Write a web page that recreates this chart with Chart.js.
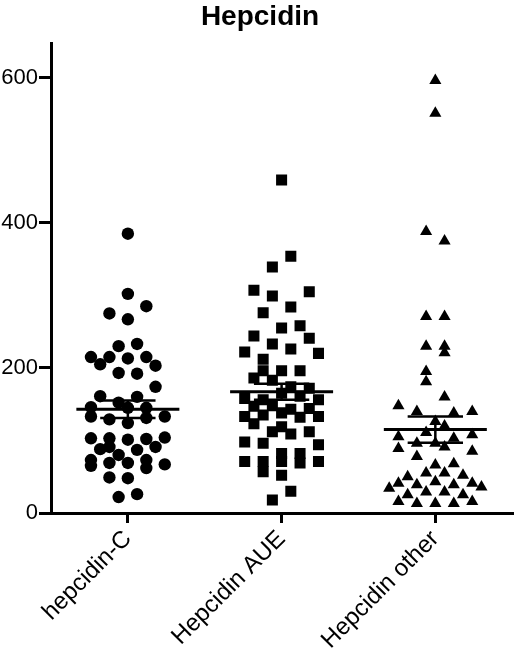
<!DOCTYPE html>
<html>
<head>
<meta charset="utf-8">
<title>Hepcidin</title>
<script src="https://cdn.jsdelivr.net/npm/chart.js@4.4.1/dist/chart.umd.min.js"></script>
<style>
    html, body { margin: 0; padding: 0; background: #fff; }
    #wrap { width: 520px; height: 660px; }
</style>
</head>
<body>
<div id="wrap"><canvas id="grafica" width="520" height="660"></canvas></div>
<script>
'use strict';

// ── Datos ──────────────────────────────────────────────────
const categorias = ['hepcidin-C', 'Hepcidin AUE', 'Hepcidin other'];
const ticksY = [0, 200, 400, 600];

const valoresC = [385, 302, 285, 275, 267, 230, 233, 215, 215, 213, 215, 205, 203, 193, 192, 174,
    161, 160, 152, 146, 145, 145, 133, 129, 124, 131, 133, 103, 103, 101, 102, 104, 88, 87, 91,
    80, 73, 65, 69, 69, 73, 62, 67, 49, 48, 26, 22, 91];
const desplC = [0, 0, 0.12, -0.12, 0, -0.06, 0.06, -0.24, -0.12, 0, 0.12, -0.18, 0.18, -0.06, 0.06, 0.18,
    -0.18, 0.06, -0.06, -0.24, 0, 0.12, -0.24, -0.12, 0, 0.12, 0.24, -0.24, -0.12, 0, 0.12, 0.24, -0.18, 0.06, 0.18,
    -0.06, -0.24, -0.24, -0.12, 0, 0.12, 0.12, 0.24, -0.12, 0, 0.06, -0.06, -0.12];

const valoresAUE = [459, 354, 339, 307, 305, 299, 284, 276, 255, 258, 244, 241, 233, 226, 222, 220,
    212, 196, 196, 196, 186, 183, 174, 172, 158, 156, 165, 161, 156, 147, 148, 143, 144, 133, 135,
    138, 132, 133, 123, 112, 109, 112, 119, 98, 96, 94, 82, 82, 71, 71, 71, 69, 71, 57, 52, 30, 18];
const desplAUE = [0, 0.06, -0.06, -0.18, 0.18, -0.06, 0.06, -0.12, 0, 0.12, -0.18, 0.18, -0.06, 0.06, -0.24, 0.24,
    -0.12, 0, 0.12, -0.12, -0.18, -0.06, 0.06, 0.18, -0.24, -0.12, 0, 0.12, 0.24, -0.18, -0.06, 0.06, 0.18, -0.24, -0.12,
    0, 0.12, 0.24, -0.18, -0.06, 0.06, 0.18, 0, -0.24, -0.12, 0.24, 0, 0.12, -0.24, -0.12, 0, 0.12, 0.24, -0.12, 0, 0.06, -0.06];

const valoresOther = [596, 551, 388, 375, 271, 271, 230, 230, 221, 195, 181, 160, 148, 140, 138, 140,
    126, 120, 111, 105, 108, 96, 96, 103, 91, 89, 85, 78, 66, 68, 55, 55, 50, 52, 43, 41, 39, 39, 41,
    36, 34, 29, 29, 25, 25, 16, 13, 13, 13, 16];
const desplOther = [0, 0, -0.06, 0.06, -0.06, 0.06, -0.06, 0.06, 0.06, -0.06, -0.06, 0.06, -0.24, -0.12, 0.12, 0.24,
    0, 0.06, -0.06, -0.24, 0.24, -0.12, 0, 0.12, 0.06, -0.24, 0.24, -0.12, 0, 0.12, -0.06, 0.06, -0.18, 0.18, 0, -0.24,
    -0.12, 0.12, 0.24, 0.3, -0.3, -0.06, 0.06, -0.18, 0.18, -0.24, -0.12, 0, 0.12, 0.24];

// media y error estándar de cada grupo
const medias = [143, 167, 115];
const errores = [12, 11, 18];

// ── Construcción de los datasets ───────────────────────────
const NEGRO = '#000000';
const grupos = [
    { valores: valoresC, despl: desplC, forma: 'circle', radio: 6.2 },
    { valores: valoresAUE, despl: desplAUE, forma: 'rect', radio: 7.8 },
    { valores: valoresOther, despl: desplOther, forma: 'triangle', radio: 7 }
];

const datasets = [];

grupos.forEach((g, i) => {
    datasets.push({
        type: 'scatter',
        label: categorias[i],
        data: g.valores.map((v, k) => ({ x: i + g.despl[k], y: v })),
        pointStyle: g.forma,
        pointRadius: g.radio,
        backgroundColor: NEGRO,
        borderColor: NEGRO,
        borderWidth: 0
    });
});

function segmento(puntos, grosor) {
    return {
        type: 'line',
        data: puntos,
        borderColor: NEGRO,
        borderWidth: grosor,
        pointRadius: 0,
        fill: false,
        tension: 0
    };
}

medias.forEach((m, i) => {
    const s = errores[i];
    datasets.push(segmento([{ x: i - 0.335, y: m }, { x: i + 0.335, y: m }], 3));   // media
    datasets.push(segmento([{ x: i, y: m - s }, { x: i, y: m + s }], 2.5));          // barra
    datasets.push(segmento([{ x: i - 0.18, y: m + s }, { x: i + 0.18, y: m + s }], 2.5));
    datasets.push(segmento([{ x: i - 0.18, y: m - s }, { x: i + 0.18, y: m - s }], 2.5));
});

const fuente = "'Liberation Sans', Arial, Helvetica, sans-serif";

new Chart(document.getElementById('grafica').getContext('2d'), {
    data: { datasets: datasets },
    options: {
        responsive: false,
        animation: false,
        layout: { padding: { top: 0, right: 0, bottom: 0, left: 0 } },
        plugins: {
            legend: { display: false },
            tooltip: { enabled: false },
            title: {
                display: true,
                text: 'Hepcidin',
                color: NEGRO,
                font: { family: fuente, size: 28, weight: 'bold' },
                padding: { top: 0, bottom: 10 }
            }
        },
        scales: {
            x: {
                type: 'linear',
                min: -0.5,
                max: 2.5,
                afterBuildTicks: axis => { axis.ticks = categorias.map((c, i) => ({ value: i })); },
                afterFit: axis => { axis.height = 147; },
                border: { display: true, color: NEGRO, width: 3 },
                grid: { drawOnChartArea: false, drawTicks: true, tickLength: 10, color: NEGRO, lineWidth: 3 },
                ticks: {
                    color: NEGRO,
                    font: { family: fuente, size: 24 },
                    maxRotation: 45,
                    minRotation: 45,
                    padding: 2,
                    callback: v => categorias[v] ?? ''
                }
            },
            y: {
                type: 'linear',
                min: 0,
                max: 647,
                afterBuildTicks: axis => { axis.ticks = ticksY.map(v => ({ value: v })); },
                afterFit: axis => { axis.width = 51; },
                border: { display: true, color: NEGRO, width: 3 },
                grid: { drawOnChartArea: false, drawTicks: true, tickLength: 12, color: NEGRO, lineWidth: 3 },
                ticks: {
                    color: NEGRO,
                    font: { family: fuente, size: 22 },
                    padding: 1
                }
            }
        }
    }
});
</script>
</body>
</html>
